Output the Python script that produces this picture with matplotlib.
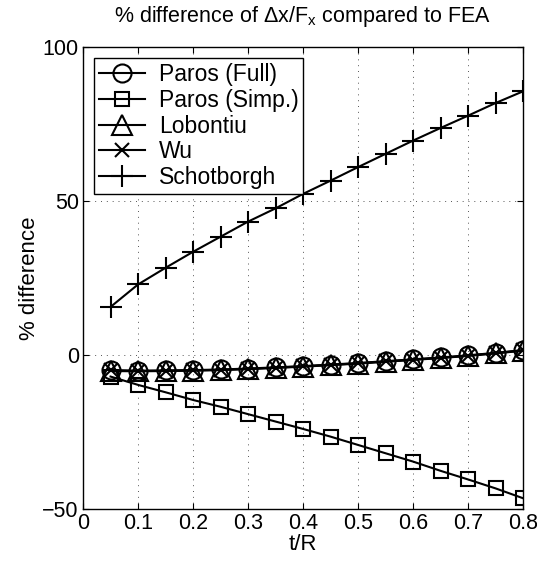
import numpy as np
import matplotlib.pyplot as plt

plt.rcParams['font.family'] = ['Liberation Sans', 'DejaVu Sans']
plt.rcParams['mathtext.fontset'] = 'custom'
plt.rcParams['mathtext.rm'] = 'Liberation Sans'
plt.rcParams['mathtext.it'] = 'Liberation Sans'

# Daten
t_R = [0.05, 0.10, 0.15, 0.20, 0.25, 0.30, 0.35, 0.40,
       0.45, 0.50, 0.55, 0.60, 0.65, 0.70, 0.75, 0.80]
paros_full = [-4.9, -5.1, -5.0, -4.9, -4.7, -4.4, -4.0, -3.6,
              -3.1, -2.6, -2.0, -1.4, -0.8, -0.1, 0.7, 1.6]
paros_simp = [-7.0, -9.7, -12.1, -14.6, -16.8, -19.2, -21.6, -24.0,
              -26.5, -29.2, -31.9, -34.6, -37.6, -40.4, -43.3, -46.5]
lobontiu = [-5.2, -5.3, -5.2, -5.1, -4.9, -4.6, -4.2, -3.8,
            -3.3, -2.8, -2.2, -1.6, -1.0, -0.3, 0.5, 1.4]
wu = [-5.0, -5.2, -5.1, -5.0, -4.8, -4.5, -4.1, -3.7,
      -3.2, -2.7, -2.1, -1.5, -0.9, -0.2, 0.6, 1.5]
schotborgh = [15.6, 22.9, 28.3, 33.5, 38.4, 43.3, 47.6, 52.3,
              56.6, 61.0, 65.3, 69.6, 73.7, 77.7, 81.8, 85.6]

xticks = [0, 0.1, 0.2, 0.3, 0.4, 0.5, 0.6, 0.7, 0.8]
yticks = [-50, 0, 50, 100]

fh = plt.figure(figsize=(5.37, 5.64), dpi=100)
ax = fh.add_axes([0.1546, 0.0975, 0.8194, 0.8192])

lw = 1.5
ax.plot(t_R, paros_full, 'k-', marker='o', ms=13, mfc='none', mec='k', mew=1.5, lw=lw, label='Paros (Full)')
ax.plot(t_R, paros_simp, 'k-', marker='s', ms=10.5, mfc='none', mec='k', mew=1.5, lw=lw, label='Paros (Simp.)')
ax.plot(t_R, lobontiu, 'k-', marker='^', ms=14, mfc='none', mec='k', mew=1.5, lw=lw, label='Lobontiu')
ax.plot(t_R, wu, 'k-', marker='x', ms=10, mec='k', mew=1.5, lw=lw, label='Wu')
ax.plot(t_R, schotborgh, 'k-', marker='+', ms=16, mec='k', mew=1.5, lw=lw, label='Schotborgh')

ax.set_xlim(0, 0.8)
ax.set_ylim(-50, 100)
ax.set_xticks(xticks)
ax.set_xticklabels(['0', '0.1', '0.2', '0.3', '0.4', '0.5', '0.6', '0.7', '0.8'])
ax.set_yticks(yticks)
ax.set_yticklabels(['\u221250', '0', '50', '100'])
ax.tick_params(direction='in', top=True, right=True, labelsize=15.5, length=4, width=0.8, pad=3)
ax.grid(True, linestyle=(0, (1, 5)), color='#555555', linewidth=0.7)
for s in ax.spines.values():
    s.set_linewidth(1.0)

ax.set_title('% difference of \u0394x/F$_\\mathrm{x}$ compared to FEA', fontsize=15.5, pad=18)
ax.set_xlabel('t/R', fontsize=16, labelpad=0)
ax.set_ylabel('% difference', fontsize=16, labelpad=2)

leg = ax.legend(loc='upper left', fontsize=16.5, fancybox=False, framealpha=1,
                edgecolor='k', handlelength=2.0, borderaxespad=0.5,
                labelspacing=0.12, borderpad=0.2, handletextpad=0.6)
leg.get_frame().set_linewidth(1.0)

fh.savefig('out.png', dpi=100)
